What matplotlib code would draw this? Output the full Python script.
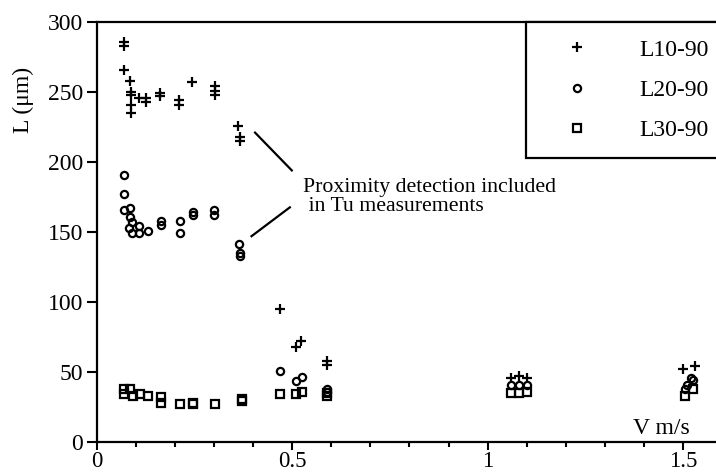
import matplotlib
matplotlib.use("Agg")
import matplotlib.pyplot as plt
from matplotlib.ticker import MultipleLocator

plt.rcParams["font.family"] = ["Liberation Serif", "DejaVu Serif"]
FS = 17

# L10-90
v10 = [0.07, 0.07, 0.07, 0.085, 0.087, 0.087, 0.089, 0.089, 0.109, 0.125, 0.125,
       0.162, 0.162, 0.211, 0.211, 0.243, 0.302, 0.302, 0.302, 0.362, 0.366, 0.366,
       0.47, 0.51, 0.522, 0.588, 0.588, 1.06, 1.08, 1.10, 1.50, 1.53]
l10 = [286, 283, 266, 258, 250, 248, 241, 235, 246, 246, 243,
       249, 247, 244, 241, 257, 254, 251, 248, 226, 218, 215,
       95, 68, 72, 58, 55, 46, 47, 46, 52, 54]
# L20-90
v20 = [0.07, 0.07, 0.07, 0.085, 0.085, 0.09, 0.083, 0.091, 0.109, 0.109, 0.13,
       0.164, 0.164, 0.212, 0.212, 0.246, 0.246, 0.301, 0.301, 0.364, 0.366, 0.366,
       0.47, 0.51, 0.524, 0.588, 0.59, 1.06, 1.08, 1.10, 1.505, 1.51, 1.52, 1.525]
l20 = [190.5, 177, 166, 167, 161, 157, 153, 149.5, 154, 149, 151,
       158, 155, 158, 149, 164, 162, 166, 162, 141.5, 135, 133,
       51, 43.5, 46.5, 37.6, 36, 41, 41, 41, 38, 41, 46, 44]
# L30-90
v30 = [0.07, 0.07, 0.085, 0.094, 0.111, 0.13, 0.164, 0.164, 0.213, 0.246, 0.246,
       0.303, 0.371, 0.371, 0.47, 0.511, 0.524, 0.59, 0.59, 1.06, 1.08, 1.10,
       1.505, 1.525]
l30 = [38, 34.5, 37.6, 33, 34, 33, 32, 28, 27.4, 28, 27,
       27.4, 30.5, 29, 34.5, 34, 35.7, 33, 35, 35, 35, 36,
       33, 37.6]

fig = plt.figure(figsize=(7.16, 4.75), dpi=100)
ax = fig.add_axes([96.7 / 716, 33 / 475, (716 - 96.7) / 716, 420 / 475])

ax.plot(v10, l10, "+", color="black", ms=7, mew=1.6, label="L10-90")
ax.plot(v20, l20, "o", color="black", mfc="none", ms=5.2, mew=1.6, label="L20-90")
ax.plot(v30, l30, "s", color="black", mfc="none", ms=5.2, mew=1.6, label="L30-90")

ax.set_xlim(0, 1.584)
ax.set_ylim(0, 300)
ax.xaxis.set_minor_locator(MultipleLocator(0.1))
ax.yaxis.set_major_locator(MultipleLocator(50))
ax.set_xticks([0, 0.5, 1, 1.5])
ax.set_xticklabels(["0", "0.5", "1", "1.5"])
ax.tick_params(axis="both", which="major", direction="out", length=7, width=1.5,
               labelsize=FS, pad=3)
ax.tick_params(axis="x", which="major", length=6, pad=0.5, labelsize=16.5)
ax.tick_params(axis="x", which="minor", direction="out", length=3.5, width=1.5)
ax.spines["right"].set_visible(False)
for s in ["left", "top", "bottom"]:
    ax.spines[s].set_linewidth(1.6)

# annotation lines and text
ax.plot([0.405, 0.499], [221, 194], color="black", lw=1.6)
ax.plot([0.396, 0.494], [147, 167.6], color="black", lw=1.6)
ax.text(0.528, 175, "Proximity detection included\n in Tu measurements",
        fontsize=15.7, ha="left", va="center", linespacing=1.05)
ax.text(1.372, 10, "V m/s", fontsize=FS, ha="left", va="center")

fig.text(23 / 716, 1 - 100 / 475, "L (\u03bcm)", fontsize=FS, rotation=90,
         ha="center", va="center")

leg = ax.legend(loc="upper left", bbox_to_anchor=(526 / 716, 1 - 22 / 475),
                bbox_transform=fig.transFigure, borderaxespad=0,
                fontsize=FS, frameon=True, fancybox=False, framealpha=1,
                edgecolor="black", handlelength=2.9, handletextpad=1.2,
                labelspacing=0.8, borderpad=0.72)
leg.get_frame().set_linewidth(1.6)

fig.savefig("out.png", dpi=100)
